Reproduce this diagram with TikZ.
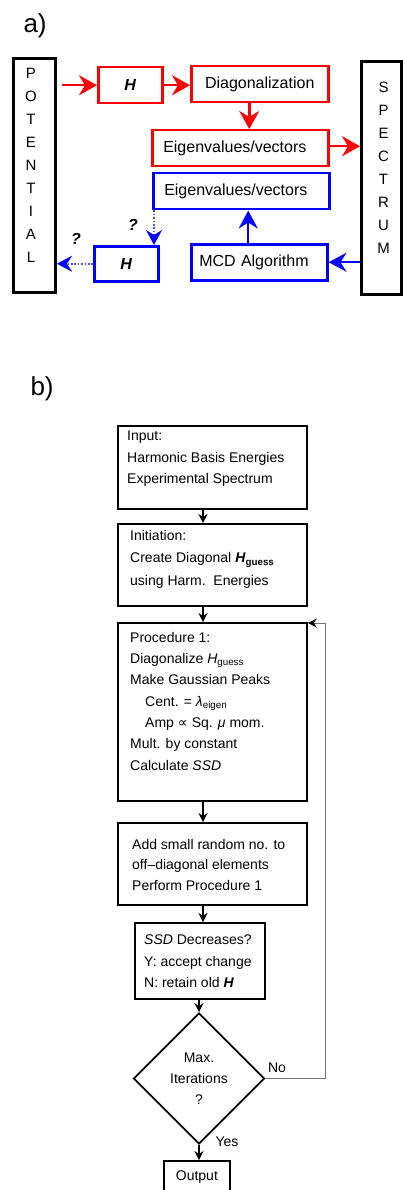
\documentclass[tikz,border=0pt]{standalone}
\usepackage{fontspec}
\setmainfont{Liberation Sans}
\newfontfamily\symf{DejaVu Sans}
\usetikzlibrary{calc}
\usetikzlibrary{arrows.meta}
\usetikzlibrary{shapes.geometric}

\newcommand{\fsa}{\fontsize{16}{19}\selectfont}
\newcommand{\fsb}{\fontsize{14}{21.5}\selectfont}
\newcommand{\fsc}{\fontsize{15}{23}\selectfont}
\newcommand{\fsq}{\fontsize{16}{18}\selectfont\bfseries\itshape}
\newcommand{\bH}{\textbf{\textit{H}}}

\tikzset{
  rbox/.style={draw=red, line width=2.5pt, anchor=north west, inner sep=0pt, font=\fsa},
  bbox/.style={draw=blue, line width=2.5pt, anchor=north west, inner sep=0pt, font=\fsa},
  kbox/.style={draw=black, line width=3pt, anchor=north west, inner sep=0pt},
  fbox/.style={draw=black, line width=1.8pt, anchor=north west, inner sep=0pt},
  txt/.style={anchor=north west, align=left, inner sep=0pt, font=\fsb},
  redarr/.style={red, line width=2.5pt, -{Stealth[length=18pt, width=20pt, inset=6pt]}},
  bluearr/.style={blue, line width=2.2pt, -{Stealth[length=18pt, width=19pt, inset=6pt]}},
  bluedot/.style={blue!70, line width=2pt, dash pattern=on 1.6pt off 1.8pt, -{Stealth[length=15pt, width=16pt, inset=5pt, color=blue]}},
  barr/.style={black, line width=1.2pt, -{Stealth[length=9pt, width=9pt, inset=3pt]}},
  fbline/.style={black!55, line width=1pt, -{Stealth[length=9pt, width=9pt, inset=3pt, color=black]}}
}

\begin{document}
\begin{tikzpicture}[x=1pt, y=-1pt]
\useasboundingbox (0,0) rectangle (403,1190);

\node[font=\fontsize{26}{30}\selectfont, anchor=base west] (la) at (20,33) {a)};

\node[kbox, minimum width=42pt, minimum height=234pt] (pot) at (12,57) {};
\node[font=\fsc, align=center] (pottxt) at (31,165.5) {P\\O\\T\\E\\N\\T\\I\\A\\L};
\node[kbox, minimum width=40pt, minimum height=233pt] (spec) at (360,60) {};
\node[font=\fsc, align=center] (spectxt) at (383.5,168) {S\\P\\E\\C\\T\\R\\U\\M};

\node[rbox, minimum width=64pt, minimum height=36pt] (hr) at (97,66) {\bH};
\node[rbox, minimum width=137pt, minimum height=36pt] (diag) at (190,65) {Diagonalization};
\node[rbox, text width=154pt, inner xsep=11pt, minimum height=36pt, align=left] (eigr) at (151,129) {Eigenvalues/vectors};
\node[bbox, text width=154pt, inner xsep=11pt, minimum height=36pt, align=left] (eigb) at (152,172) {Eigenvalues/vectors};
\node[bbox, minimum width=64pt, minimum height=35pt] (hb) at (93,245) {\bH};
\node[bbox, text width=120pt, inner xsep=8pt, minimum height=36pt, align=left] (mcd) at (190,243) {MCD Algorithm};

\node[font=\fsq] (q1) at (133,225) {?};
\node[font=\fsq] (q2) at (76,239) {?};

\draw[redarr] ([xshift=5pt]pot.east |- hr.west) -- (hr.west);
\draw[redarr] (hr.east) -- (hr.east -| diag.west);
\draw[redarr] ([xshift=-10.5pt]diag.south) -- ([xshift=-10.5pt]diag.south |- eigr.north);
\draw[redarr] ([yshift=2pt]eigr.east) -- ([yshift=2pt]eigr.east -| spec.west);
\draw[bluearr] (mcd.east -| spec.west) -- (mcd.east);
\draw[bluearr] ([xshift=-11pt]mcd.north) -- ([xshift=-11pt]mcd.north |- eigb.south);
\draw[bluedot] ([xshift=2pt]eigb.south west) -- ([xshift=2pt]eigb.south west |- hb.north);
\draw[bluedot] (hb.west) -- (hb.west -| pot.east);

\node[font=\fontsize{26}{30}\selectfont, anchor=base west] (lb) at (27,395) {b)};

\coordinate (spine) at (203,0);
\node[fbox, minimum width=189pt, minimum height=83pt] (inp) at (117,425) {};
\node[txt] (inptxt) at (127,431) {Input:\\Harmonic Basis Energies\\Experimental Spectrum};
\node[fbox, minimum width=189pt, minimum height=82pt] (init) at (117,523) {};
\node[txt, font=\fontsize{14}{22.5}\selectfont] (inittxt) at (130,530) {Initiation:\\Create Diagonal \bH\textsubscript{\bfseries guess}\\using Harm.\ \ Energies};
\node[fbox, minimum width=189pt, minimum height=178pt] (proc) at (117,622) {};
\node[txt, font=\fontsize{14}{21.3}\selectfont] (proctxt) at (130,632) {Procedure 1:\\Diagonalize \textit{H}\textsubscript{guess}\\Make Gaussian Peaks\\\hspace*{15pt}Cent. = \textit{λ}\textsubscript{eigen}\\\hspace*{15pt}Amp {\symf ∝} Sq. \textit{μ} mom.\\Mult. by constant\\Calculate \textit{SSD}};
\node[fbox, minimum width=189pt, minimum height=82pt] (add) at (117,822) {};
\node[txt, font=\fontsize{14}{20.5}\selectfont] (addtxt) at (132,839) {Add small random no. to\\off--diagonal elements\\Perform Procedure 1};
\node[fbox, minimum width=130pt, minimum height=76pt] (ssd) at (134,922) {};
\node[txt] (ssdtxt) at (144,935) {\textit{SSD} Decreases?\\Y: accept change\\N: retain old \bH};
\node[draw, diamond, line width=1.8pt, minimum width=131pt, minimum height=131pt, inner sep=0pt, align=center, font=\fontsize{14}{21}\selectfont] (dia) at (199,1078.5) {Max.\\Iterations\\?};
\node[fbox, minimum width=66pt, minimum height=33pt, font=\fsb] (out) at (163,1160) {Output};
\node[font=\fsb] (no) at (277,1068) {No};
\node[font=\fsb] (yes) at (227,1142) {Yes};

\draw[barr] (inp.south -| spine) -- (init.north -| spine);
\draw[barr] (init.south -| spine) -- (proc.north -| spine);
\draw[barr] (proc.south -| spine) -- (add.north -| spine);
\draw[barr] (add.south -| spine) -- (ssd.north -| spine);
\draw[barr] (ssd.south -| dia.north) -- (dia.north);
\draw[barr] (dia.south) -- (out.north -| dia.south);
\draw[fbline] (dia.east) -| ([shift={(18pt,-1pt)}]proc.north east) -- ([yshift=-1pt]proc.north east);

\end{tikzpicture}
\end{document}
